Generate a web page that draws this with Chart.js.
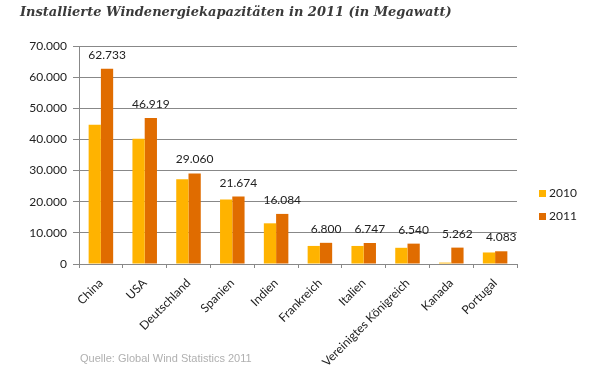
<!DOCTYPE html>
<html>
<head>
<meta charset="utf-8">
<script src="https://cdn.jsdelivr.net/npm/chart.js@4"></script>
<style>
  body { margin: 0; background: #fff; }
  #wrap { position: relative; width: 602px; height: 371px; overflow: hidden; }
  #titel { position: absolute; left: 20px; top: 4px; font: italic bold 13px "DejaVu Serif", serif; color: #3a3a3a; white-space: nowrap; }
  #quelle { position: absolute; left: 80px; top: 352px; font: 11px "Liberation Sans", Arial, sans-serif; color: #b0b0b0; white-space: nowrap; }
  #legende { position: absolute; left: 539px; top: 185px; font: 12px Lato, sans-serif; color: #222; }
  #legende div { height: 23px; line-height: 16px; }
  #legende span { display: inline-block; width: 7px; height: 7px; margin-right: 3px; vertical-align: 0px; }
</style>
</head>
<body>
<div id="wrap">
  <canvas id="myChart" width="602" height="371"></canvas>
  <div id="titel">Installierte Windenergiekapazitäten in 2011 (in Megawatt)</div>
  <div id="legende"></div>
  <div id="quelle">Quelle: Global Wind Statistics 2011</div>
</div>
<script>
// Daten (MW)
const laender = ['China', 'USA', 'Deutschland', 'Spanien', 'Indien', 'Frankreich', 'Italien', 'Vereinigtes Königreich', 'Kanada', 'Portugal'];
const jahre = ['2010', '2011'];
const werte2010 = [44733, 40180, 27215, 20676, 13065, 5800, 5797, 5204, 450, 3702];
const werte2011 = [62733, 46919, 29060, 21674, 16084, 6800, 6747, 6540, 5262, 4083];
const yTicks = [0, 10000, 20000, 30000, 40000, 50000, 60000, 70000];

const farben = ['#FFB300', '#E06C00'];

function formatZahl(v) {
    return String(v).replace(/\B(?=(\d{3})+(?!\d))/g, '.');
}

// Legende
const legende = document.getElementById('legende');
jahre.forEach(function(j, i) {
    const zeile = document.createElement('div');
    zeile.innerHTML = '<span style="background:' + farben[i] + '"></span>' + j;
    legende.appendChild(zeile);
});

// Werte über den Balken 2011
const wertLabels = {
    id: 'wertLabels',
    afterDatasetsDraw: function(chart) {
        const ctx = chart.ctx;
        const meta = chart.getDatasetMeta(1);
        ctx.save();
        ctx.font = '12px Lato, sans-serif';
        ctx.fillStyle = '#222';
        ctx.textAlign = 'center';
        ctx.textBaseline = 'alphabetic';
        meta.data.forEach(function(bar, i) {
            ctx.fillText(formatZahl(werte2011[i]), bar.x, bar.y - 10);
        });
        ctx.restore();
    }
};

const ctx = document.getElementById('myChart').getContext('2d');
const myChart = new Chart(ctx, {
    type: 'bar',
    data: {
        labels: laender,
        datasets: [
            { label: jahre[0], data: werte2010, backgroundColor: farben[0] },
            { label: jahre[1], data: werte2011, backgroundColor: farben[1] }
        ]
    },
    options: {
        responsive: false,
        animation: false,
        layout: { padding: { top: 46, right: 85, left: 0, bottom: 0 } },
        datasets: { bar: { categoryPercentage: 0.56, barPercentage: 1.0 } },
        plugins: {
            legend: { display: false },
            tooltip: { enabled: false }
        },
        scales: {
            x: {
                afterFit: function(scale) { scale.height = 107; },
                grid: { display: true, drawOnChartArea: false, offset: true, color: '#888', tickLength: 4 },
                border: { color: '#888' },
                ticks: {
                    minRotation: 45, maxRotation: 45, padding: 8,
                    color: '#222', font: { family: 'Lato', size: 12 }
                }
            },
            y: {
                min: 0, max: 70000,
                afterFit: function(scale) { scale.width = 79; },
                afterBuildTicks: function(scale) { scale.ticks = yTicks.map(function(v) { return { value: v }; }); },
                grid: { color: '#888', tickLength: 6 },
                border: { color: '#888' },
                ticks: {
                    padding: 6, color: '#222', font: { family: 'Lato', size: 12 },
                    callback: function(v) { return formatZahl(v); }
                }
            }
        }
    },
    plugins: [wertLabels]
});
</script>
</body>
</html>
